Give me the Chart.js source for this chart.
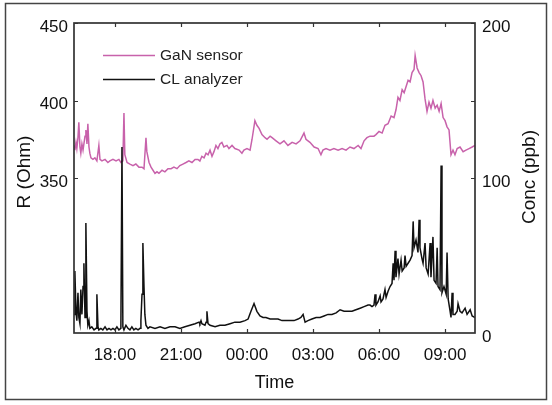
<!DOCTYPE html>
<html>
<head>
<meta charset="utf-8">
<script src="https://cdn.jsdelivr.net/npm/chart.js@4.4.1/dist/chart.umd.min.js"></script>
<style>
html,body{margin:0;padding:0;background:#fff;}
canvas{display:block;}
</style>
</head>
<body>
<canvas id="c" width="552" height="405"></canvas>
<script>
// ---- Data (time in decimal hours; values past 24 are the next morning) ----
const gasTime = [16.14,16.18,16.23,16.27,16.32,16.36,16.41,16.45,16.50,16.55,16.64,16.68,16.73,16.77,16.82,16.86,16.91,17.00,17.09,17.18,17.27,17.32,17.41,17.55,17.68,17.77,17.91,18.05,18.18,18.27,18.36,18.41,18.45,18.55,18.68,18.82,18.95,19.09,19.23,19.32,19.41,19.45,19.55,19.64,19.73,19.82,19.91,20.00,20.14,20.27,20.41,20.55,20.68,20.82,20.95,21.09,21.23,21.36,21.50,21.64,21.77,21.86,21.95,22.05,22.14,22.23,22.32,22.41,22.50,22.59,22.68,22.77,22.86,22.95,23.09,23.18,23.32,23.45,23.64,23.77,23.86,24.00,24.14,24.23,24.36,24.45,24.55,24.68,24.82,24.91,25.05,25.14,25.32,25.50,25.68,25.86,26.05,26.23,26.41,26.59,26.68,26.86,27.05,27.23,27.36,27.45,27.59,27.77,27.95,28.14,28.32,28.50,28.68,28.86,29.05,29.18,29.32,29.45,29.59,29.77,29.86,30.00,30.14,30.27,30.41,30.55,30.68,30.77,30.86,30.95,31.05,31.14,31.23,31.32,31.41,31.50,31.59,31.64,31.73,31.82,31.91,32.00,32.09,32.18,32.27,32.36,32.45,32.55,32.64,32.73,32.82,32.91,33.00,33.09,33.18,33.27,33.36,33.45,33.55,33.68,33.82,33.95,34.09,34.23,34.36];
const gasR = [371,368,373,369,376,386,370,366,372,368,377,381,372,385,370,366,363,362,363,361,371,362,361,362,360,361,362,361,362,360,361,392,365,360,359,358,359,357,357,356,376,367,360,357,355,353,354,353,355,354,356,356,357,356,358,359,360,361,360,362,362,361,364,363,366,365,368,364,367,371,369,372,373,370,371,369,371,369,368,366,368,369,368,375,387,384,382,378,376,375,377,376,374,372,374,371,373,372,374,379,375,373,370,369,365,368,369,368,369,368,369,368,370,369,371,369,374,376,377,377,378,380,379,384,385,390,389,394,402,400,407,405,409,413,412,418,420,429,421,418,416,412,401,393,399,395,400,395,397,393,398,389,387,383,381,365,368,365,369,370,367,368,369,370,371];

const clTime = [16.14,16.18,16.23,16.27,16.32,16.36,16.41,16.45,16.50,16.55,16.59,16.64,16.68,16.73,16.77,16.82,16.86,16.95,17.05,17.14,17.18,17.23,17.27,17.36,17.45,17.55,17.64,17.73,17.82,17.91,18.00,18.09,18.18,18.27,18.32,18.36,18.41,18.50,18.59,18.68,18.77,18.86,18.95,19.05,19.14,19.18,19.23,19.27,19.32,19.36,19.41,19.50,19.59,19.82,20.05,20.27,20.50,20.73,20.95,21.18,21.41,21.64,21.82,21.86,21.91,21.95,22.09,22.14,22.18,22.23,22.32,22.55,22.77,23.00,23.23,23.45,23.68,23.91,24.05,24.18,24.32,24.45,24.59,24.73,24.86,25.05,25.23,25.41,25.59,25.77,25.95,26.14,26.32,26.45,26.55,26.64,26.77,26.95,27.14,27.32,27.50,27.68,27.86,28.05,28.23,28.41,28.59,28.77,28.95,29.14,29.32,29.50,29.59,29.68,29.77,29.82,29.86,29.95,30.05,30.09,30.18,30.27,30.32,30.41,30.50,30.59,30.64,30.68,30.73,30.77,30.86,30.91,31.00,31.05,31.14,31.18,31.23,31.32,31.41,31.50,31.55,31.59,31.68,31.77,31.82,31.86,31.95,32.00,32.09,32.14,32.23,32.32,32.36,32.45,32.50,32.59,32.64,32.68,32.77,32.82,32.86,32.95,33.05,33.09,33.14,33.23,33.27,33.32,33.36,33.45,33.55,33.59,33.68,33.77,33.91,34.00,34.14,34.23,34.36];
const clConc = [12,40,14,8,26,10,6,28,12,30,45,10,71,14,5,8,3,4,2,3,25,4,2,3,2,4,2,3,2,3,2,4,2,3,120,4,2,5,3,2,4,2,3,2,3,8,25,58,30,12,5,3,4,3,4,3,4,4,3,4,5,6,7,6,8,6,5,7,14,6,5,4,5,5,6,7,7,8,9,14,19,14,11,10,10,9,9,9,8,8,8,8,9,10,12,7,8,9,10,10,11,12,12,13,15,14,14,14,15,16,17,18,18,17,18,25,18,20,24,20,22,28,23,27,30,32,45,34,53,36,48,38,47,40,42,50,43,45,47,50,72,55,60,52,73,55,48,45,58,42,38,58,36,62,34,32,55,30,28,108,26,30,25,52,22,14,10,26,12,12,14,19,14,13,16,12,15,11,10];

const xTickValues = [18,21,24,27,30,33];
const xTickLabels = ['18:00','21:00','00:00','03:00','06:00','09:00'];
const leftTickValues = [350,400,450];
const rightTickValues = [0,100,200];
const rightTickMarks = [100,150,200];
const seriesNames = ['GaN sensor','CL analyzer'];
const axisTitles = {x:'Time', left:'R (Ohm)', right:'Conc (ppb)'};

const FONT = '"Liberation Sans", Arial, Helvetica, sans-serif';
const pink = '#c862ab';
const black = '#111111';
const frameColor = '#333333';

const gasData = gasTime.map((t,i)=>({x:t,y:gasR[i]}));
const clData = clTime.map((t,i)=>({x:t,y:clConc[i]}));

const decor = {
  id:'decor',
  beforeDraw(chart){
    const ctx = chart.ctx;
    ctx.save();
    ctx.fillStyle = '#fff';
    ctx.fillRect(0,0,chart.width,chart.height);
    ctx.restore();
  },
  afterDraw(chart){
    const ctx = chart.ctx;
    const a = chart.chartArea;
    const sx = chart.scales.x, sl = chart.scales.y, sr = chart.scales.y1;
    ctx.save();
    // plot frame
    ctx.strokeStyle = frameColor;
    ctx.lineWidth = 1.7;
    ctx.strokeRect(a.left, a.top, a.right - a.left, a.bottom - a.top);
    // inward ticks
    ctx.lineWidth = 1.2;
    const tl = 4;
    ctx.beginPath();
    xTickValues.forEach(v=>{
      const px = Math.round(sx.getPixelForValue(v)) + 0.5;
      ctx.moveTo(px, a.bottom); ctx.lineTo(px, a.bottom - tl);
      ctx.moveTo(px, a.top); ctx.lineTo(px, a.top + tl);
    });
    leftTickValues.forEach(v=>{
      const py = Math.round(sl.getPixelForValue(v)) + 0.5;
      ctx.moveTo(a.left, py); ctx.lineTo(a.left + tl, py);
    });
    rightTickMarks.forEach(v=>{
      const py = Math.round(sr.getPixelForValue(v)) + 0.5;
      ctx.moveTo(a.right, py); ctx.lineTo(a.right - tl, py);
    });
    ctx.stroke();
    // axis titles
    ctx.fillStyle = '#111';
    ctx.textAlign = 'center';
    ctx.textBaseline = 'middle';
    ctx.font = '18px ' + FONT;
    ctx.fillText(axisTitles.x, (a.left + a.right)/2, 383);
    ctx.save();
    ctx.translate(25, 172);
    ctx.rotate(-Math.PI/2);
    ctx.font = '19px ' + FONT;
    ctx.fillText(axisTitles.left, 0, 0);
    ctx.restore();
    ctx.save();
    ctx.translate(530, 177);
    ctx.rotate(-Math.PI/2);
    ctx.font = '19px ' + FONT;
    ctx.fillText(axisTitles.right, 0, 0);
    ctx.restore();
    // legend
    const lg = [{c:pink, y:55, t:seriesNames[0]}, {c:black, y:79, t:seriesNames[1]}];
    ctx.textAlign = 'left';
    ctx.font = '15.5px ' + FONT;
    lg.forEach(e=>{
      ctx.strokeStyle = e.c;
      ctx.lineWidth = 1.5;
      ctx.beginPath();
      ctx.moveTo(103, e.y + 0.5); ctx.lineTo(155, e.y + 0.5);
      ctx.stroke();
      ctx.fillStyle = '#222';
      ctx.fillText(e.t, 160, e.y + 1);
    });
    // outer frame
    ctx.strokeStyle = '#444';
    ctx.lineWidth = 1.5;
    ctx.strokeRect(5.5, 3.5, 541, 396);
    ctx.restore();
  }
};

new Chart(document.getElementById('c'), {
  type:'line',
  data:{
    datasets:[
      {label:seriesNames[0], data:gasData, yAxisID:'y', borderColor:pink, borderWidth:1.5, pointRadius:0, tension:0, fill:false, order:2},
      {label:seriesNames[1], data:clData, yAxisID:'y1', borderColor:black, borderWidth:1.5, pointRadius:0, tension:0, fill:false, order:1}
    ]
  },
  options:{
    responsive:false,
    animation:false,
    devicePixelRatio:1,
    layout:{padding:{top:23,left:0,right:0,bottom:0}},
    plugins:{legend:{display:false}, tooltip:{enabled:false}},
    scales:{
      x:{
        type:'linear', position:'bottom', min:16.14, max:34.36,
        afterBuildTicks:s=>{s.ticks = xTickValues.map(v=>({value:v}));},
        afterFit:s=>{s.height = 72;},
        grid:{display:false, drawTicks:false}, border:{display:false},
        ticks:{autoSkip:false, maxRotation:0, padding:12, color:'#111', font:{family:FONT,size:17},
          callback:(v)=>xTickLabels[xTickValues.indexOf(v)]}
      },
      y:{
        type:'linear', position:'left', min:250, max:450,
        afterBuildTicks:s=>{s.ticks = leftTickValues.map(v=>({value:v}));},
        afterFit:s=>{s.width = 74;},
        grid:{display:false, drawTicks:false}, border:{display:false},
        ticks:{padding:6, labelOffset:4, color:'#111', font:{family:FONT,size:17}}
      },
      y1:{
        type:'linear', position:'right', min:0, max:200,
        afterBuildTicks:s=>{s.ticks = rightTickValues.map(v=>({value:v}));},
        afterFit:s=>{s.width = 77;},
        grid:{display:false, drawTicks:false}, border:{display:false},
        ticks:{padding:7, labelOffset:4, color:'#111', font:{family:FONT,size:17}}
      }
    }
  },
  plugins:[decor]
});
</script>
</body>
</html>
